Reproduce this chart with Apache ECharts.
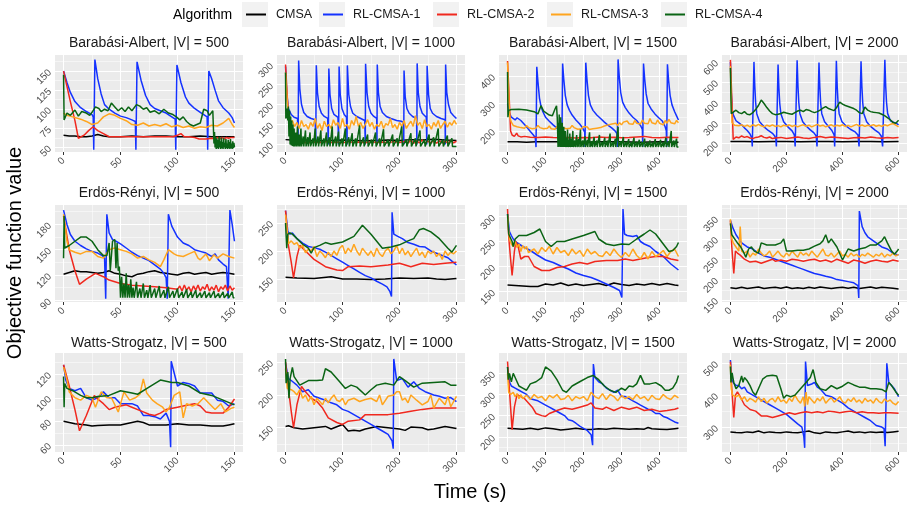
<!DOCTYPE html>
<html>
<head>
<meta charset="utf-8">
<script src="https://cdn.jsdelivr.net/npm/echarts@6/dist/echarts.min.js"></script>
<style>
  html, body { margin: 0; padding: 0; background: #fff; }
  #chart { width: 908px; height: 507px; }
</style>
</head>
<body>
<div id="chart"></div>
<script>
// ---------- Algorithms ----------
const algorithms = ['CMSA', 'RL-CMSA-1', 'RL-CMSA-2', 'RL-CMSA-3', 'RL-CMSA-4'];
const algoColors = ['#000000', '#1432FF', '#F0281E', '#FFA51E', '#0A6414'];

// ---------- Panel titles ----------
const panelTitles = [
  'Barabási-Albert, |V| = 500', 'Barabási-Albert, |V| = 1000', 'Barabási-Albert, |V| = 1500', 'Barabási-Albert, |V| = 2000',
  'Erdös-Rényi, |V| = 500', 'Erdös-Rényi, |V| = 1000', 'Erdös-Rényi, |V| = 1500', 'Erdös-Rényi, |V| = 2000',
  'Watts-Strogatz, |V| = 500', 'Watts-Strogatz, |V| = 1000', 'Watts-Strogatz, |V| = 1500', 'Watts-Strogatz, |V| = 2000'
];

// ---------- Axis limits and tick labels ----------
const xLimits = [[-7.5, 157.5], [-15, 315], [-22.5, 472.5], [-30, 630]];      // per column
const xTickLabels = [[0, 50, 100, 150], [0, 100, 200, 300], [0, 100, 200, 300, 400], [0, 200, 400, 600]];
const yLimits = [
  [44, 171], [81, 324], [123, 477], [156, 634],
  [88, 203], [109, 282], [129, 323], [145, 383],
  [54, 138], [113, 264], [164, 398], [222, 532]
];
const yTickLabels = [
  [50, 75, 100, 125, 150], [100, 150, 200, 250, 300], [200, 300, 400], [200, 300, 400, 500, 600],
  [90, 120, 150, 180], [150, 200, 250], [150, 200, 250, 300], [150, 200, 250, 300, 350],
  [60, 80, 100, 120], [150, 200, 250], [200, 250, 300, 350], [300, 400, 500]
];

// ---------- Barabási-Albert, |V| = 500 ----------
const ba500_cmsa = [[0,66],[5,65],[10,65],[15,64],[20,64],[25,65],[30,67],[35,65],[40,64],[50,64],[60,65],[70,64],[80,65],[90,65],[100,64],[110,64],[120,65],[130,64],[140,64],[150,64]];
const ba500_rl1 = [[0,150],[3,135],[6,122],[10,110],[15,102],[20,97],[25,93],[26,90],[26.5,47],[27.5,165],[30,140],[33,120],[36,106],[40,100],[45,95],[50,91],[55,89],[60,86],[63,84],[63.5,47],[64.5,162],[68,138],[72,118],[76,106],[80,101],[85,98],[90,95],[95,90],[98,87],[98.5,47],[99.5,158],[103,135],[107,116],[110,108],[115,101],[120,96],[124,92],[126,90],[126.5,47],[127.5,150],[130,140],[133,125],[136,111],[140,102],[145,95],[148,89],[150,82]];
const ba500_rl2 = [[0,150],[3,130],[6,110],[10,85],[13,62],[18,66],[22,72],[26,77],[30,72],[35,68],[40,64],[50,64],[60,64],[70,64],[80,64],[90,64],[96,64],[100,66],[103,68],[106,64],[110,64],[115,63],[119,61],[125,61],[130,62],[133,61],[135,63],[137,61],[139,63],[141,61],[143,63],[145,62],[147,63],[150,63]];
const ba500_rl3 = [[0,95],[3,92],[8,90],[15,87],[20,84],[25,80],[30,82],[35,90],[40,94],[45,92],[50,88],[55,85],[60,80],[65,79],[70,82],[75,78],[80,80],[85,78],[90,81],[95,77],[100,79],[105,76],[110,78],[115,75],[120,77],[125,76],[130,79],[135,78],[140,82],[145,88],[148,80],[150,76]];
const ba500_rl4 = [[0,145],[0.5,86],[3,95],[6,92],[10,99],[13,91],[16,97],[20,95],[23,92],[25,96],[28,103],[31,101],[33,97],[36,100],[39,98],[42,108],[45,103],[48,98],[51,102],[54,97],[57,103],[60,98],[64,106],[67,104],[70,100],[73,102],[76,96],[80,98],[84,94],[88,100],[92,95],[96,93],[99,90],[102,86],[105,90],[108,84],[111,80],[114,78],[117,80],[120,82],[123,100],[126,98],[128,92],[131,98],[132,55],[132.5,70],[133,50],[133.5,64],[134,48],[134.5,62],[135,49],[135.5,60],[136,48],[136.5,64],[137,50],[137.5,58],[138,48],[138.5,63],[139,49],[139.5,57],[140,48],[140.5,62],[141,50],[141.5,56],[142,48],[142.5,61],[143,49],[143.5,55],[144,48],[144.5,60],[145,49],[145.5,57],[146,48],[146.5,61],[147,49],[147.5,55],[148,48],[148.5,58],[149,49],[149.5,56],[150,50]];

// ---------- Barabási-Albert, |V| = 1000 ----------
const ba1000_cmsa = [[0,112],[10,111],[20,110],[40,110],[60,109],[80,110],[100,111],[120,110],[140,109],[160,110],[180,111],[200,110],[220,112],[240,111],[260,113],[280,111],[300,110]];
const ba1000_rl1 = [[0,295],[2,230],[5,190],[10,175],[15,168],[21,165],[22,100],[23,310],[25,240],[28,200],[32,180],[38,170],[45,165],[52,162],[53,100],[54,298],[56,230],[59,195],[63,178],[68,170],[74,165],[75,100],[76,290],[78,225],[81,190],[85,175],[92,168],[93,100],[94,295],[96,225],[99,190],[103,175],[107,168],[108,100],[108.5,298],[111,225],[114,195],[118,178],[125,170],[132,165],[139,160],[140,100],[140.5,302],[143,230],[146,195],[150,178],[155,170],[160,165],[160.5,100],[161,300],[163,230],[166,195],[170,180],[177,170],[185,165],[195,160],[203,158],[207,155],[207.5,100],[208,285],[210,220],[213,190],[217,178],[223,170],[230,165],[230.5,100],[231,303],[233,230],[236,195],[240,178],[247,168],[248,100],[248.5,297],[251,225],[254,190],[258,178],[265,170],[273,165],[280,162],[280.5,100],[281,300],[283,230],[286,200],[290,180],[295,172],[300,165]];
const ba1000_rl2 = [[0,300],[3,220],[6,150],[10,115],[15,108],[20,106],[30,105],[40,104],[50,106],[60,105],[70,107],[80,105],[90,106],[100,104],[110,107],[120,105],[130,106],[140,104],[150,107],[160,105],[170,106],[180,104],[190,107],[200,105],[210,108],[215,104],[220,110],[225,103],[230,109],[235,104],[240,111],[245,103],[250,108],[255,104],[260,110],[265,103],[270,109],[275,104],[280,108],[285,103],[290,110],[295,104],[300,108]];
const ba1000_rl3 = [[0,280],[2,230],[5,170],[8,150],[12,160],[16,145],[20,155],[24,140],[28,160],[32,145],[36,150],[40,138],[44,155],[48,145],[52,165],[56,140],[60,152],[64,135],[68,158],[72,145],[76,150],[80,140],[84,162],[88,148],[92,155],[96,140],[100,165],[104,145],[108,150],[112,138],[116,160],[120,148],[124,170],[128,145],[132,155],[136,140],[140,150],[144,162],[148,145],[152,155],[156,138],[160,150],[164,145],[168,158],[172,140],[176,152],[180,148],[184,165],[188,142],[192,150],[196,138],[200,155],[204,145],[208,160],[212,140],[216,150],[220,158],[224,145],[228,172],[232,148],[236,155],[240,140],[244,162],[248,145],[252,150],[256,138],[260,155],[264,145],[268,160],[272,140],[276,150],[280,158],[284,143],[288,155],[292,148],[296,160],[300,150]];
const ba1000_rl4 = [[0,280],[0.5,165],[2,175],[3,190],[4,160],[5,195],[6,120],[7,185],[8,100],[9,170],[10,98],[11,160],[12,96],[13,150],[14,95],[15,140],[16,95],[18,130],[19,95],[21,145],[22,95],[24,125],[25,95],[27,140],[28,95],[31,120],[32,95],[35,135],[36,95],[39,118],[40,95],[43,130],[44,95],[48,115],[49,95],[52,140],[53,95],[57,120],[58,95],[62,135],[63,95],[67,115],[68,95],[72,130],[73,95],[77,118],[78,95],[82,145],[83,95],[88,120],[89,95],[93,132],[94,95],[99,115],[100,95],[105,140],[106,95],[111,118],[112,95],[117,128],[118,95],[123,115],[124,95],[130,148],[131,95],[137,118],[138,95],[144,125],[145,95],[151,112],[152,95],[158,130],[159,95],[165,115],[166,95],[172,138],[173,95],[180,112],[181,95],[188,125],[189,95],[196,115],[197,95],[204,145],[205,95],[212,112],[213,95],[220,128],[221,95],[228,115],[229,95],[236,135],[237,95],[244,112],[245,95],[252,125],[253,95],[260,118],[261,95],[268,140],[269,95],[276,112],[277,95],[284,122],[285,95],[292,115],[293,95],[300,95]];

// ---------- Barabási-Albert, |V| = 1500 ----------
const ba1500_cmsa = [[0,160],[25,160],[50,159],[75,160],[100,160],[150,160],[200,159],[250,160],[300,160],[350,159],[400,160],[450,159]];
const ba1500_rl1 = [[0,300],[5,265],[10,250],[15,243],[20,240],[25,248],[30,246],[35,238],[40,232],[50,215],[60,198],[68,185],[73,175],[75,141],[77,434],[80,380],[84,320],[88,290],[93,270],[100,250],[110,235],[120,222],[130,210],[138,200],[142,190],[143,141],[145,446],[148,390],[152,330],[157,295],[163,275],[170,258],[180,240],[190,225],[198,210],[203,195],[204,141],[206,449],[209,390],[213,330],[218,295],[225,275],[235,258],[245,245],[255,232],[265,220],[275,210],[283,200],[288,190],[289,141],[291,461],[294,400],[298,340],[303,305],[310,285],[320,265],[330,250],[340,238],[350,220],[355,205],[356,141],[358,446],[361,390],[365,335],[370,300],[378,280],[388,262],[398,248],[408,235],[415,215],[418,200],[419,141],[421,443],[424,385],[428,330],[433,295],[440,270],[445,255],[450,240]];
const ba1500_rl2 = [[0,455],[4,330],[8,200],[12,185],[18,180],[24,192],[28,182],[35,178],[45,180],[60,177],[80,176],[100,178],[120,176],[140,175],[160,176],[180,174],[200,176],[220,175],[240,178],[260,176],[280,177],[300,175],[320,176],[340,178],[360,180],[380,176],[400,175],[420,177],[440,176],[450,176]];
const ba1500_rl3 = [[0,450],[3,330],[6,250],[10,232],[15,220],[20,222],[25,215],[30,222],[35,212],[40,218],[45,210],[50,220],[55,212],[60,218],[65,208],[70,215],[75,210],[80,220],[85,212],[90,216],[95,208],[100,214],[105,210],[110,218],[115,208],[120,212],[125,206],[130,215],[135,210],[140,220],[145,212],[150,216],[155,208],[160,214],[165,210],[170,220],[175,212],[180,215],[185,206],[190,212],[195,208],[200,216],[205,210],[210,214],[215,205],[220,212],[225,208],[230,215],[235,210],[240,205],[245,212],[250,208],[255,218],[260,212],[265,222],[270,215],[275,225],[280,218],[285,228],[290,220],[295,230],[300,222],[305,232],[310,225],[315,236],[320,226],[325,232],[330,224],[335,238],[340,228],[345,232],[350,225],[355,240],[360,228],[365,235],[370,226],[375,245],[380,230],[385,236],[390,225],[395,240],[400,228],[405,235],[410,222],[415,238],[420,228],[425,242],[430,230],[435,236],[440,226],[445,238],[450,230]];
const ba1500_rl4 = [[0,415],[1,250],[3,275],[10,278],[30,279],[50,276],[70,270],[80,262],[88,292],[95,272],[100,265],[110,258],[118,255],[125,280],[129,292],[131,245],[133,141],[134,230],[135,145],[136,260],[137,142],[138,210],[139,141],[140,250],[141,142],[142,190],[143,141],[144,230],[145,142],[146,180],[147,141],[148,215],[149,142],[150,170],[151,141],[152,200],[153,141],[155,175],[156,141],[158,205],[159,141],[161,168],[162,141],[164,190],[165,141],[168,172],[169,141],[172,200],[173,141],[177,165],[178,141],[182,185],[183,141],[187,170],[188,141],[192,205],[193,141],[198,165],[199,141],[204,180],[205,141],[210,168],[211,141],[216,195],[217,141],[222,162],[223,141],[228,178],[229,141],[235,165],[236,141],[242,185],[243,141],[249,160],[250,141],[256,175],[257,141],[263,165],[264,141],[270,190],[271,141],[277,160],[278,141],[284,172],[285,141],[291,215],[292,141],[298,162],[299,141],[305,178],[306,141],[312,160],[313,141],[319,170],[320,141],[326,158],[327,141],[333,175],[334,141],[340,160],[341,141],[347,168],[348,141],[354,160],[355,141],[361,172],[362,141],[368,158],[369,141],[375,165],[376,141],[382,158],[383,141],[389,170],[390,141],[396,160],[397,141],[403,168],[404,141],[410,158],[411,141],[417,175],[418,141],[424,162],[425,141],[431,200],[432,141],[438,165],[439,141],[445,172],[446,141],[450,141]];

// ---------- Barabási-Albert, |V| = 2000 ----------
const ba2000_cmsa = [[0,208],[50,208],[100,207],[150,208],[200,208],[250,207],[300,208],[350,208],[400,207],[450,208],[500,208],[550,207],[600,208]];
const ba2000_rl1 = [[0,600],[3,450],[6,370],[10,340],[20,310],[30,300],[40,290],[50,275],[60,262],[70,245],[76,225],[78,183],[82,183],[84,600],[87,480],[90,400],[94,345],[104,305],[120,280],[135,262],[150,248],[158,235],[162,220],[164,183],[168,183],[170,587],[173,470],[176,395],[180,345],[190,305],[205,280],[220,260],[228,240],[231,183],[236,183],[238,608],[241,480],[244,400],[248,345],[258,305],[272,282],[285,265],[298,250],[306,235],[309,183],[314,183],[316,597],[319,475],[322,395],[326,345],[336,305],[350,282],[362,262],[370,240],[372,183],[376,183],[378,605],[381,480],[384,400],[388,345],[398,305],[412,285],[428,268],[445,255],[455,240],[459,183],[464,183],[466,603],[469,480],[472,400],[476,345],[486,305],[500,282],[515,265],[530,250],[538,235],[543,183],[549,183],[551,611],[554,480],[557,400],[561,345],[571,310],[585,300],[595,295],[600,290]];
const ba2000_rl2 = [[0,610],[5,420],[10,218],[15,225],[20,230],[30,226],[40,235],[50,228],[60,232],[70,225],[80,222],[90,228],[100,230],[110,236],[120,228],[130,225],[140,230],[150,222],[160,225],[180,228],[200,222],[220,226],[240,230],[260,225],[280,222],[300,228],[320,232],[340,226],[360,230],[380,228],[400,225],[420,222],[440,226],[460,228],[480,225],[500,230],[520,226],[540,224],[560,228],[580,225],[600,227]];
const ba2000_rl3 = [[0,580],[3,420],[6,300],[10,295],[15,288],[20,292],[30,285],[40,290],[50,282],[60,288],[70,280],[80,290],[90,284],[100,292],[110,285],[120,280],[130,288],[140,283],[150,290],[160,282],[170,286],[180,280],[190,288],[200,284],[210,290],[220,282],[230,287],[240,280],[250,286],[260,290],[270,283],[280,288],[290,280],[300,286],[310,292],[320,284],[330,288],[340,280],[350,285],[360,290],[370,282],[380,288],[390,284],[400,290],[410,282],[420,287],[430,280],[440,286],[450,292],[460,284],[470,289],[480,282],[490,288],[500,285],[510,291],[520,283],[530,288],[540,282],[550,290],[560,285],[570,292],[580,296],[590,288],[600,280]];
const ba2000_rl4 = [[0,570],[3,345],[10,350],[20,362],[30,350],[40,345],[50,355],[60,342],[70,340],[80,350],[90,365],[100,385],[110,412],[120,395],[130,375],[140,358],[150,345],[160,340],[170,342],[180,346],[190,352],[200,348],[210,345],[220,342],[230,350],[240,358],[250,362],[260,355],[270,365],[280,362],[290,355],[300,350],[310,355],[320,362],[330,372],[340,380],[350,370],[360,365],[370,360],[380,378],[390,402],[400,392],[410,385],[420,380],[430,375],[440,370],[450,362],[460,350],[470,345],[480,378],[490,362],[500,355],[510,352],[520,350],[530,348],[540,342],[550,335],[560,325],[570,315],[580,302],[590,298],[600,312]];

// ---------- Erdös-Rényi, |V| = 500 ----------
const er500_cmsa = [[0,121],[5,123],[10,125],[15,124],[20,124],[25,123],[30,122],[35,123],[40,125],[45,122],[50,121],[55,119],[60,118],[65,121],[70,122],[75,124],[80,125],[85,123],[90,122],[95,121],[100,120],[105,122],[110,123],[115,121],[120,122],[125,123],[130,121],[135,122],[140,123],[145,122],[150,121]];
const er500_rl1 = [[0,197],[3,180],[6,168],[10,160],[15,155],[20,151],[25,148],[30,146],[34,143],[36,140],[37,92],[38,192],[40,170],[43,162],[46,160],[50,157],[55,152],[60,147],[65,143],[70,140],[75,137],[80,132],[85,127],[88,122],[90,117],[91,92],[92,192],[95,178],[100,165],[105,158],[110,155],[115,150],[120,148],[125,146],[130,142],[133,145],[136,138],[140,133],[143,130],[144.5,92],[146,197],[148,180],[150,160]];
const er500_rl2 = [[0,190],[5,150],[10,125],[14,109],[20,115],[28,122],[35,118],[40,114],[50,110],[60,108],[70,107],[80,106],[90,105],[95,104],[100,103],[102,107],[104,101],[106,108],[108,102],[110,106],[112,100],[114,107],[116,102],[118,108],[120,101],[122,106],[124,103],[126,109],[128,101],[130,106],[132,102],[134,108],[136,100],[138,106],[140,103],[142,108],[144,101],[146,107],[148,102],[150,105]];
const er500_rl3 = [[0,192],[3,160],[5,150],[10,147],[15,145],[20,148],[25,148],[30,142],[35,140],[40,150],[45,152],[50,150],[55,148],[60,145],[65,140],[70,142],[75,138],[80,135],[85,130],[88,138],[92,150],[97,145],[100,143],[105,142],[110,145],[115,148],[118,140],[120,138],[125,145],[128,137],[132,144],[135,140],[140,145],[145,142],[150,140]];
const er500_rl4 = [[0,140],[0.5,190],[1,152],[5,155],[10,160],[15,165],[20,165],[25,160],[30,150],[35,143],[38,143],[40,158],[41,125],[43,160],[45,162],[46,128],[47,158],[48,125],[49,130],[50,93],[51,118],[52,93],[53,110],[54,93],[55,122],[56,93],[57,108],[58,93],[59,115],[60,93],[61,105],[62,93],[64,112],[65,93],[67,104],[68,93],[70,110],[71,93],[73,102],[74,93],[76,108],[77,93],[80,104],[81,93],[84,107],[85,93],[88,102],[89,93],[92,106],[93,93],[96,101],[97,93],[100,104],[101,93],[104,100],[105,93],[108,103],[109,93],[112,100],[113,93],[116,102],[117,93],[120,99],[121,93],[124,101],[125,93],[128,99],[129,93],[132,101],[133,93],[136,98],[137,93],[140,100],[141,93],[144,98],[145,93],[148,100],[149,93],[150,93]];

// ---------- Erdös-Rényi, |V| = 1000 ----------
const er1000_cmsa = [[0,153],[20,152],[50,151],[80,154],[100,150],[125,150],[150,149],[175,150],[200,152],[225,151],[250,152],[265,150],[280,149],[300,151]];
const er1000_rl1 = [[0,272],[4,235],[8,230],[12,232],[20,222],[30,214],[40,208],[50,206],[60,203],[70,198],[80,192],[90,186],[100,180],[110,174],[120,168],[130,162],[140,156],[150,152],[160,146],[170,141],[178,136],[183,128],[186,119],[187,269],[190,230],[197,226],[205,222],[215,215],[225,212],[235,208],[245,207],[255,200],[265,196],[275,192],[285,188],[292,182],[300,175]];
const er1000_rl2 = [[0,272],[5,210],[10,180],[14,152],[20,190],[25,210],[35,200],[50,185],[70,172],[90,166],[100,165],[110,172],[130,173],[150,172],[180,175],[200,178],[220,172],[240,178],[260,176],[280,178],[300,180]];
const er1000_rl3 = [[0,265],[3,235],[5,213],[10,218],[15,212],[20,215],[25,205],[30,210],[35,197],[40,203],[45,200],[50,208],[55,190],[60,200],[65,195],[70,188],[75,198],[80,190],[85,200],[90,192],[95,205],[100,210],[105,195],[110,205],[115,198],[120,212],[125,200],[130,192],[135,205],[140,198],[145,192],[150,200],[155,190],[160,205],[165,195],[170,190],[175,200],[180,205],[185,195],[190,200],[195,210],[200,195],[205,205],[210,193],[215,200],[220,190],[225,198],[230,205],[235,192],[240,198],[245,188],[250,200],[255,195],[260,200],[265,190],[270,196],[275,185],[280,200],[285,192],[290,198],[295,195],[300,200]];
const er1000_rl4 = [[0,250],[2,205],[4,230],[8,232],[12,230],[20,222],[30,212],[40,205],[45,196],[50,206],[60,210],[70,215],[80,212],[100,216],[120,226],[135,246],[150,230],[170,205],[185,207],[200,211],[215,218],[225,222],[235,238],[242,240],[255,234],[270,222],[285,205],[292,198],[300,210]];

// ---------- Erdös-Rényi, |V| = 1500 ----------
const er1500_cmsa = [[0,163],[20,162],[40,161],[60,160],[80,160],[100,165],[120,163],[140,167],[160,162],[180,165],[200,162],[220,164],[240,166],[260,162],[280,167],[300,164],[320,162],[340,165],[360,163],[380,166],[400,163],[420,166],[440,163],[450,162]];
const er1500_rl1 = [[0,305],[5,270],[10,262],[15,255],[20,250],[30,245],[40,240],[60,232],[80,222],[100,213],[120,208],[140,201],[160,195],[180,187],[200,182],[220,178],[240,172],[260,165],[280,158],[295,152],[301,138],[304,315],[308,265],[315,262],[320,266],[330,260],[340,262],[350,250],[360,245],[375,240],[390,230],[410,220],[430,205],[450,193]];
const er1500_rl2 = [[0,315],[3,260],[8,215],[12,182],[18,230],[22,250],[28,240],[35,215],[45,220],[55,220],[70,200],[90,192],[110,192],[130,198],[150,200],[170,205],[190,208],[210,205],[230,210],[260,212],[290,212],[310,215],[330,212],[350,215],[370,218],[390,220],[410,220],[430,215],[450,212]];
const er1500_rl3 = [[0,300],[5,255],[10,245],[15,240],[20,250],[25,238],[30,245],[35,230],[40,242],[45,235],[50,240],[55,228],[60,232],[70,235],[80,225],[90,238],[100,230],[110,240],[120,225],[130,238],[140,228],[150,232],[160,222],[170,235],[180,225],[190,232],[200,220],[210,235],[220,225],[230,230],[240,222],[250,220],[260,230],[270,222],[280,235],[290,225],[300,218],[310,228],[320,220],[330,235],[340,222],[350,215],[360,228],[370,215],[380,230],[390,220],[400,225],[410,232],[420,220],[430,230],[440,235],[450,220]];
const er1500_rl4 = [[0,305],[3,265],[8,262],[12,250],[15,240],[20,255],[30,262],[50,262],[70,268],[85,275],[100,250],[115,240],[130,250],[150,250],[170,255],[200,262],[230,270],[240,255],[260,245],[280,242],[300,245],[320,244],[340,255],[360,265],[375,273],[390,265],[410,245],[425,230],[435,232],[445,240],[450,248]];

// ---------- Erdös-Rényi, |V| = 2000 ----------
const er2000_cmsa = [[0,180],[20,178],[40,181],[60,178],[80,180],[100,182],[120,178],[140,180],[160,181],[180,179],[200,182],[220,178],[240,180],[260,178],[280,181],[300,179],[320,182],[340,180],[360,178],[380,180],[400,181],[420,179],[440,181],[460,178],[480,180],[500,182],[520,179],[540,181],[560,180],[580,179],[600,177]];
const er2000_rl1 = [[0,345],[10,325],[20,310],[30,300],[40,290],[60,280],[80,275],[100,265],[120,258],[140,255],[160,250],[180,245],[200,240],[220,235],[240,230],[260,225],[280,220],[300,215],[320,212],[340,208],[360,205],[380,200],[400,198],[420,195],[440,192],[455,185],[458,155],[460,368],[470,330],[480,315],[490,305],[500,300],[520,290],[540,280],[560,275],[580,265],[600,260]];
const er2000_rl2 = [[0,345],[5,280],[12,215],[18,270],[25,265],[35,260],[50,250],[70,243],[90,245],[110,240],[130,245],[150,250],[160,245],[180,248],[200,245],[220,250],[240,248],[260,245],[280,248],[300,250],[320,245],[340,248],[360,243],[380,250],[400,245],[420,240],[440,248],[460,245],[480,240],[500,245],[520,248],[540,245],[560,243],[580,248],[600,245]];
const er2000_rl3 = [[0,348],[5,300],[10,290],[20,280],[30,270],[35,330],[40,270],[50,265],[60,270],[70,255],[80,265],[90,260],[100,275],[110,265],[120,258],[130,262],[140,270],[150,255],[160,262],[170,270],[180,260],[190,255],[200,265],[210,258],[220,270],[230,262],[240,255],[250,268],[260,260],[270,265],[280,258],[290,270],[300,262],[310,255],[320,265],[330,275],[340,260],[350,258],[360,265],[370,255],[380,262],[390,270],[400,258],[410,262],[420,255],[430,265],[440,258],[450,262],[460,255],[470,262],[480,258],[490,265],[500,260],[510,255],[520,262],[530,258],[540,265],[550,255],[560,262],[570,258],[580,265],[590,258],[600,262]];
const er2000_rl4 = [[0,338],[5,310],[15,300],[25,290],[35,282],[45,270],[55,255],[65,275],[75,280],[85,270],[100,265],[110,290],[130,285],[160,285],[180,290],[190,300],[200,270],[220,270],[240,272],[260,272],[280,275],[300,282],[320,288],[330,295],[340,310],[350,290],[360,300],[380,280],[400,248],[420,275],[440,270],[460,275],[480,278],[500,285],[520,285],[540,295],[550,305],[560,290],[575,270],[585,262],[595,270],[600,275]];

// ---------- Watts-Strogatz, |V| = 500 ----------
const ws500_cmsa = [[0,80],[10,78],[20,77],[25,76],[30,76.5],[40,77],[50,77],[55,78],[65,80],[70,79],[75,77],[80,77],[90,77],[100,78],[110,77],[120,77],[130,76],[140,76],[145,77],[150,78]];
const ws500_rl1 = [[0,128],[2,115],[5,108],[10,106],[15,108],[20,100],[25,98],[30,100],[35,105],[40,100],[45,100],[50,95],[60,95],[65,93],[70,85],[75,85],[80,84],[85,82],[90,87],[93,80],[94,58],[94.5,131],[100,110],[105,113],[110,112],[115,110],[120,104],[125,104],[130,104],[135,98],[140,97],[145,93],[150,95]];
const ws500_rl2 = [[0,128],[5,110],[10,90],[14,72],[20,85],[27,102],[30,99],[35,95],[40,90],[45,92],[50,93],[55,94],[60,92],[70,88],[75,86],[80,85],[85,87],[90,90],[100,92],[110,94],[115,95],[120,93],[125,88],[130,87],[140,87],[145,92],[150,99]];
const ws500_rl3 = [[0,126],[3,115],[5,105],[10,100],[15,98],[20,102],[25,100],[28,92],[33,105],[38,100],[42,100],[48,88],[53,105],[58,98],[63,100],[67,103],[70,116],[73,104],[78,98],[82,95],[87,92],[90,88],[93,92],[97,102],[102,105],[105,83],[108,95],[113,93],[118,95],[123,100],[128,95],[133,90],[138,95],[142,88],[147,91],[150,92]];
const ws500_rl4 = [[0,118],[0.5,92],[1,112],[3,108],[8,106],[15,102],[20,100],[25,100],[30,101],[40,102],[50,106],[60,104],[65,103],[75,109],[85,115],[95,113],[100,113],[110,110],[120,104],[130,102],[140,98],[150,94]];

// ---------- Watts-Strogatz, |V| = 1000 ----------
const ws1000_cmsa = [[0,152],[5,153],[15,150],[30,148],[50,150],[70,152],[80,148],[100,155],[110,145],[120,146],[130,145],[140,148],[160,152],[180,150],[200,148],[210,146],[220,151],[240,150],[250,147],[260,148],[280,152],[300,149]];
const ws1000_rl1 = [[0,248],[5,225],[10,222],[20,215],[30,205],[40,208],[50,198],[60,195],[70,192],[80,188],[90,185],[100,178],[110,175],[120,170],[130,165],[140,160],[150,155],[160,150],[170,145],[180,140],[187,130],[189,118],[190,255],[195,222],[205,225],[215,212],[225,220],[235,210],[245,205],[260,200],[270,198],[280,195],[290,196],[300,190]];
const ws1000_rl2 = [[0,250],[5,210],[10,175],[14,150],[20,185],[28,213],[35,205],[45,195],[55,190],[65,180],[75,165],[90,158],[100,155],[110,160],[130,162],[140,170],[160,170],[180,170],[200,172],[220,175],[240,178],[260,180],[280,180],[300,180]];
const ws1000_rl3 = [[0,240],[3,210],[10,208],[15,205],[20,200],[25,208],[30,195],[35,200],[40,190],[45,198],[50,185],[55,195],[60,190],[65,185],[70,195],[75,188],[80,195],[85,200],[90,192],[95,190],[100,195],[105,185],[110,192],[120,195],[130,190],[140,193],[150,195],[160,190],[165,200],[170,185],[180,198],[190,200],[195,205],[200,205],[205,192],[210,195],[215,188],[220,200],[230,192],[240,185],[250,190],[255,200],[260,180],[270,195],[280,185],[285,198],[290,182],[300,198]];
const ws1000_rl4 = [[0,255],[1,218],[4,235],[6,195],[8,225],[12,242],[15,228],[25,215],[40,222],[55,222],[65,223],[70,240],[80,235],[95,220],[105,210],[115,215],[125,212],[140,200],[150,208],[160,215],[175,218],[190,215],[200,228],[210,222],[225,212],[240,218],[260,219],[280,220],[290,215],[300,215]];

// ---------- Watts-Strogatz, |V| = 1500 ----------
const ws1500_cmsa = [[0,220],[20,219],[40,218],[60,220],[80,217],[100,221],[120,219],[140,216],[160,218],[180,220],[200,218],[220,217],[240,219],[260,218],[280,220],[300,219],[320,218],[340,219],[360,218],[370,222],[380,219],[400,218],[420,217],[440,219],[450,220]];
const ws1500_rl1 = [[0,365],[5,330],[10,320],[20,315],[30,310],[40,305],[50,300],[60,290],[80,285],[100,275],[110,270],[120,265],[140,255],[150,250],[160,240],[170,238],[180,232],[190,225],[200,220],[210,215],[220,205],[224,180],[226,372],[230,340],[240,330],[250,325],[260,315],[270,310],[280,305],[290,310],[300,295],[310,295],[320,290],[330,285],[340,280],[350,275],[360,270],[370,265],[380,262],[390,255],[400,255],[410,248],[420,245],[430,240],[440,235],[450,232]];
const ws1500_rl2 = [[0,378],[5,310],[12,217],[18,270],[25,300],[35,295],[45,290],[55,280],[65,270],[75,255],[90,250],[100,248],[110,255],[130,262],[150,268],[170,265],[190,270],[210,275],[220,280],[230,268],[250,265],[260,270],[280,262],[300,270],[320,265],[340,270],[360,262],[380,265],[400,260],[420,262],[440,265],[450,268]];
const ws1500_rl3 = [[0,350],[3,305],[8,300],[15,305],[20,295],[25,302],[30,290],[35,300],[40,290],[50,298],[60,288],[70,300],[80,292],[90,295],[100,285],[110,298],[120,292],[130,300],[140,288],[150,290],[160,298],[170,285],[180,295],[190,290],[200,295],[210,285],[220,305],[230,295],[240,290],[250,302],[260,288],[270,300],[280,295],[290,285],[300,298],[310,290],[320,295],[330,288],[340,300],[350,290],[360,295],[370,285],[380,298],[390,290],[400,288],[410,300],[420,292],[430,288],[440,298],[450,292]];
const ws1500_rl4 = [[0,365],[2,335],[5,350],[10,330],[15,350],[20,352],[30,320],[40,315],[50,310],[60,325],[75,330],[90,340],[100,365],[115,355],[130,335],[145,310],[155,305],[170,320],[190,330],[210,340],[225,345],[240,335],[255,320],[270,310],[285,305],[300,315],[310,310],[320,320],[330,318],[340,325],[350,345],[360,325],[375,325],[390,328],[405,320],[415,310],[425,310],[435,315],[445,330],[450,345]];

// ---------- Watts-Strogatz, |V| = 2000 ----------
const ws2000_cmsa = [[0,285],[20,283],[40,282],[60,285],[80,283],[100,288],[120,282],[140,285],[160,283],[180,282],[200,285],[220,283],[240,282],[260,285],[280,288],[300,282],[320,280],[340,285],[360,283],[380,282],[400,285],[420,288],[440,283],[460,285],[480,282],[500,285],[520,283],[540,285],[560,283],[580,285],[600,287]];
const ws2000_rl1 = [[0,510],[5,450],[10,440],[20,430],[30,430],[40,420],[50,425],[60,410],[80,400],[100,390],[120,380],[140,370],[160,360],[180,350],[200,340],[220,325],[240,310],[255,300],[262,270],[265,235],[268,505],[275,430],[290,435],[300,440],[310,425],[320,420],[340,400],[360,395],[380,385],[400,375],[420,360],[440,350],[460,340],[480,330],[500,320],[520,305],[540,300],[548,295],[552,240],[555,235],[558,500],[565,440],[575,430],[585,420],[600,395]];
const ws2000_rl2 = [[0,505],[5,420],[12,330],[18,400],[25,410],[35,395],[50,370],[70,355],[90,350],[110,335],[130,335],[150,330],[170,335],[190,340],[210,345],[230,340],[250,345],[270,348],[290,345],[310,348],[330,345],[350,350],[370,348],[390,345],[410,348],[430,350],[450,345],[470,348],[490,345],[510,345],[530,343],[550,345],[570,345],[600,343]];
const ws2000_rl3 = [[0,495],[3,420],[8,400],[15,405],[20,395],[30,400],[40,385],[50,395],[60,380],[70,390],[80,385],[90,378],[100,395],[110,380],[120,390],[130,375],[140,385],[150,390],[160,378],[170,395],[180,380],[190,385],[200,375],[210,390],[220,380],[230,400],[240,385],[250,375],[260,395],[265,365],[270,410],[275,370],[280,395],[290,385],[300,375],[310,390],[320,382],[330,395],[340,375],[350,385],[360,392],[370,378],[380,385],[390,395],[400,380],[410,375],[420,388],[430,380],[440,392],[450,378],[460,385],[470,375],[480,390],[490,380],[500,385],[510,375],[520,390],[530,380],[540,375],[550,388],[560,380],[570,385],[580,375],[590,370],[600,380]];
const ws2000_rl4 = [[0,490],[2,440],[6,470],[12,440],[20,420],[30,430],[40,460],[45,440],[50,455],[60,445],[70,430],[80,410],[90,400],[100,420],[115,450],[130,460],[150,462],[165,460],[180,420],[190,390],[200,400],[215,395],[230,400],[250,420],[270,440],[285,455],[295,480],[305,440],[320,420],[340,415],[360,430],[380,420],[400,428],[420,440],[440,432],[460,425],[480,425],[500,420],[520,420],[540,418],[555,410],[565,440],[575,430],[590,410],[600,400]];

// ---------- Panels, in reading order ----------
const panelSeries = [
  [ba500_cmsa, ba500_rl1, ba500_rl2, ba500_rl3, ba500_rl4],
  [ba1000_cmsa, ba1000_rl1, ba1000_rl2, ba1000_rl3, ba1000_rl4],
  [ba1500_cmsa, ba1500_rl1, ba1500_rl2, ba1500_rl3, ba1500_rl4],
  [ba2000_cmsa, ba2000_rl1, ba2000_rl2, ba2000_rl3, ba2000_rl4],
  [er500_cmsa, er500_rl1, er500_rl2, er500_rl3, er500_rl4],
  [er1000_cmsa, er1000_rl1, er1000_rl2, er1000_rl3, er1000_rl4],
  [er1500_cmsa, er1500_rl1, er1500_rl2, er1500_rl3, er1500_rl4],
  [er2000_cmsa, er2000_rl1, er2000_rl2, er2000_rl3, er2000_rl4],
  [ws500_cmsa, ws500_rl1, ws500_rl2, ws500_rl3, ws500_rl4],
  [ws1000_cmsa, ws1000_rl1, ws1000_rl2, ws1000_rl3, ws1000_rl4],
  [ws1500_cmsa, ws1500_rl1, ws1500_rl2, ws1500_rl3, ws1500_rl4],
  [ws2000_cmsa, ws2000_rl1, ws2000_rl2, ws2000_rl3, ws2000_rl4]
];

// ---------- Layout ----------
const FONT = '"Liberation Sans", Arial, Helvetica, sans-serif';
const colLeft = [55, 277, 499, 722];
const colWidth = [188, 188, 188, 185];
const rowTop = [55, 205, 353];
const rowHeight = [97, 97, 99];
const titleY = [43, 193, 343];
const legendLineX = [245, 322, 436, 550, 664];

// minor breaks: midpoints between majors, plus one step beyond each end, kept inside the limits
function minorBreaks(major, lim) {
  const step = major[1] - major[0];
  const ext = [major[0] - step].concat(major, [major[major.length - 1] + step]);
  const out = [];
  for (let i = 0; i < ext.length - 1; i++) {
    const m = (ext[i] + ext[i + 1]) / 2;
    if (m > lim[0] && m < lim[1]) out.push(m);
  }
  return out;
}

const grids = [], xAxes = [], yAxes = [], series = [], graphics = [];

panelSeries.forEach((lines, p) => {
  const r = Math.floor(p / 4), c = p % 4;
  grids.push({
    left: colLeft[c], top: rowTop[r], width: colWidth[c], height: rowHeight[r],
    show: true, backgroundColor: '#EBEBEB', borderWidth: 0, containLabel: false
  });
  const xl = xLimits[c], yl = yLimits[p];
  const xt = xTickLabels[c], yt = yTickLabels[p];
  xAxes.push({
    type: 'value', gridIndex: p, min: xl[0], max: xl[1],
    axisLine: { show: false },
    axisTick: { show: true, customValues: xt, length: 3, lineStyle: { color: '#333333', width: 1 } },
    axisLabel: { customValues: xt, rotate: 45, fontSize: 10, color: '#4D4D4D', margin: 7, fontFamily: FONT },
    splitLine: { show: false }
  });
  yAxes.push({
    type: 'value', gridIndex: p, min: yl[0], max: yl[1],
    axisLine: { show: false },
    axisTick: { show: true, customValues: yt, length: 3, lineStyle: { color: '#333333', width: 1 } },
    axisLabel: { customValues: yt, rotate: 45, fontSize: 10, color: '#4D4D4D', margin: 5, fontFamily: FONT },
    splitLine: { show: false }
  });

  // panel grid lines (major + minor), drawn beneath the data
  const major = { color: '#FFFFFF', width: 1.1, type: 'solid' };
  const minor = { color: '#FFFFFF', width: 0.5, type: 'solid' };
  const gl = []
    .concat(xt.map(v => ({ xAxis: v, lineStyle: major })))
    .concat(minorBreaks(xt, xl).map(v => ({ xAxis: v, lineStyle: minor })))
    .concat(yt.map(v => ({ yAxis: v, lineStyle: major })))
    .concat(minorBreaks(yt, yl).map(v => ({ yAxis: v, lineStyle: minor })));
  series.push({
    type: 'line', name: 'panel-grid-' + p, xAxisIndex: p, yAxisIndex: p, data: [],
    silent: true, z: 1, animation: false,
    markLine: { silent: true, z: 1, animation: false, symbol: ['none', 'none'], label: { show: false },
      emphasis: { disabled: true }, data: gl }
  });

  lines.forEach((d, k) => {
    series.push({
      type: 'line', name: algorithms[k], xAxisIndex: p, yAxisIndex: p, data: d,
      symbol: 'none', showSymbol: false, z: 2 + k, animation: false,
      lineStyle: { color: algoColors[k], width: 1.5 }, itemStyle: { color: algoColors[k] },
      emphasis: { disabled: true }
    });
  });

  graphics.push({
    type: 'text', x: colLeft[c] + colWidth[c] / 2, y: titleY[r], silent: true,
    style: { text: panelTitles[p], fill: '#1A1A1A', font: '14px ' + FONT, textAlign: 'center', textVerticalAlign: 'middle' }
  });
});

// legend key backgrounds and title
legendLineX.forEach(x => {
  graphics.push({ type: 'rect', shape: { x: x - 3, y: 2, width: 26, height: 25 }, style: { fill: '#F2F2F2' }, silent: true, z: -1 });
});
graphics.push({ type: 'text', x: 173, y: 15, silent: true,
  style: { text: 'Algorithm', fill: '#000000', font: '14px ' + FONT, textAlign: 'left', textVerticalAlign: 'middle' } });

// axis titles
graphics.push({ type: 'text', x: 470, y: 492, silent: true,
  style: { text: 'Time (s)', fill: '#000000', font: '20px ' + FONT, textAlign: 'center', textVerticalAlign: 'middle' } });
graphics.push({ type: 'text', x: 15, y: 253, rotation: Math.PI / 2, silent: true,
  style: { text: 'Objective function value', fill: '#000000', font: '20px ' + FONT, textAlign: 'center', textVerticalAlign: 'middle' } });

// one legend per algorithm so each key sits on its own background box
const legends = algorithms.map((name, k) => ({
  data: [name], left: legendLineX[k], top: 8, padding: 0, itemWidth: 20, itemHeight: 14,
  textStyle: { fontSize: 12.5, color: '#1A1A1A', fontFamily: FONT, padding: [0, 0, 0, 5] },
  itemStyle: { opacity: 0, borderWidth: 0 },
  lineStyle: { width: 2 }
}));

const chart = echarts.init(document.getElementById('chart'), null, { renderer: 'canvas' });
chart.setOption({
  backgroundColor: '#FFFFFF',
  animation: false,
  legend: legends,
  grid: grids,
  xAxis: xAxes,
  yAxis: yAxes,
  series: series,
  graphic: { elements: graphics }
});
</script>
</body>
</html>
